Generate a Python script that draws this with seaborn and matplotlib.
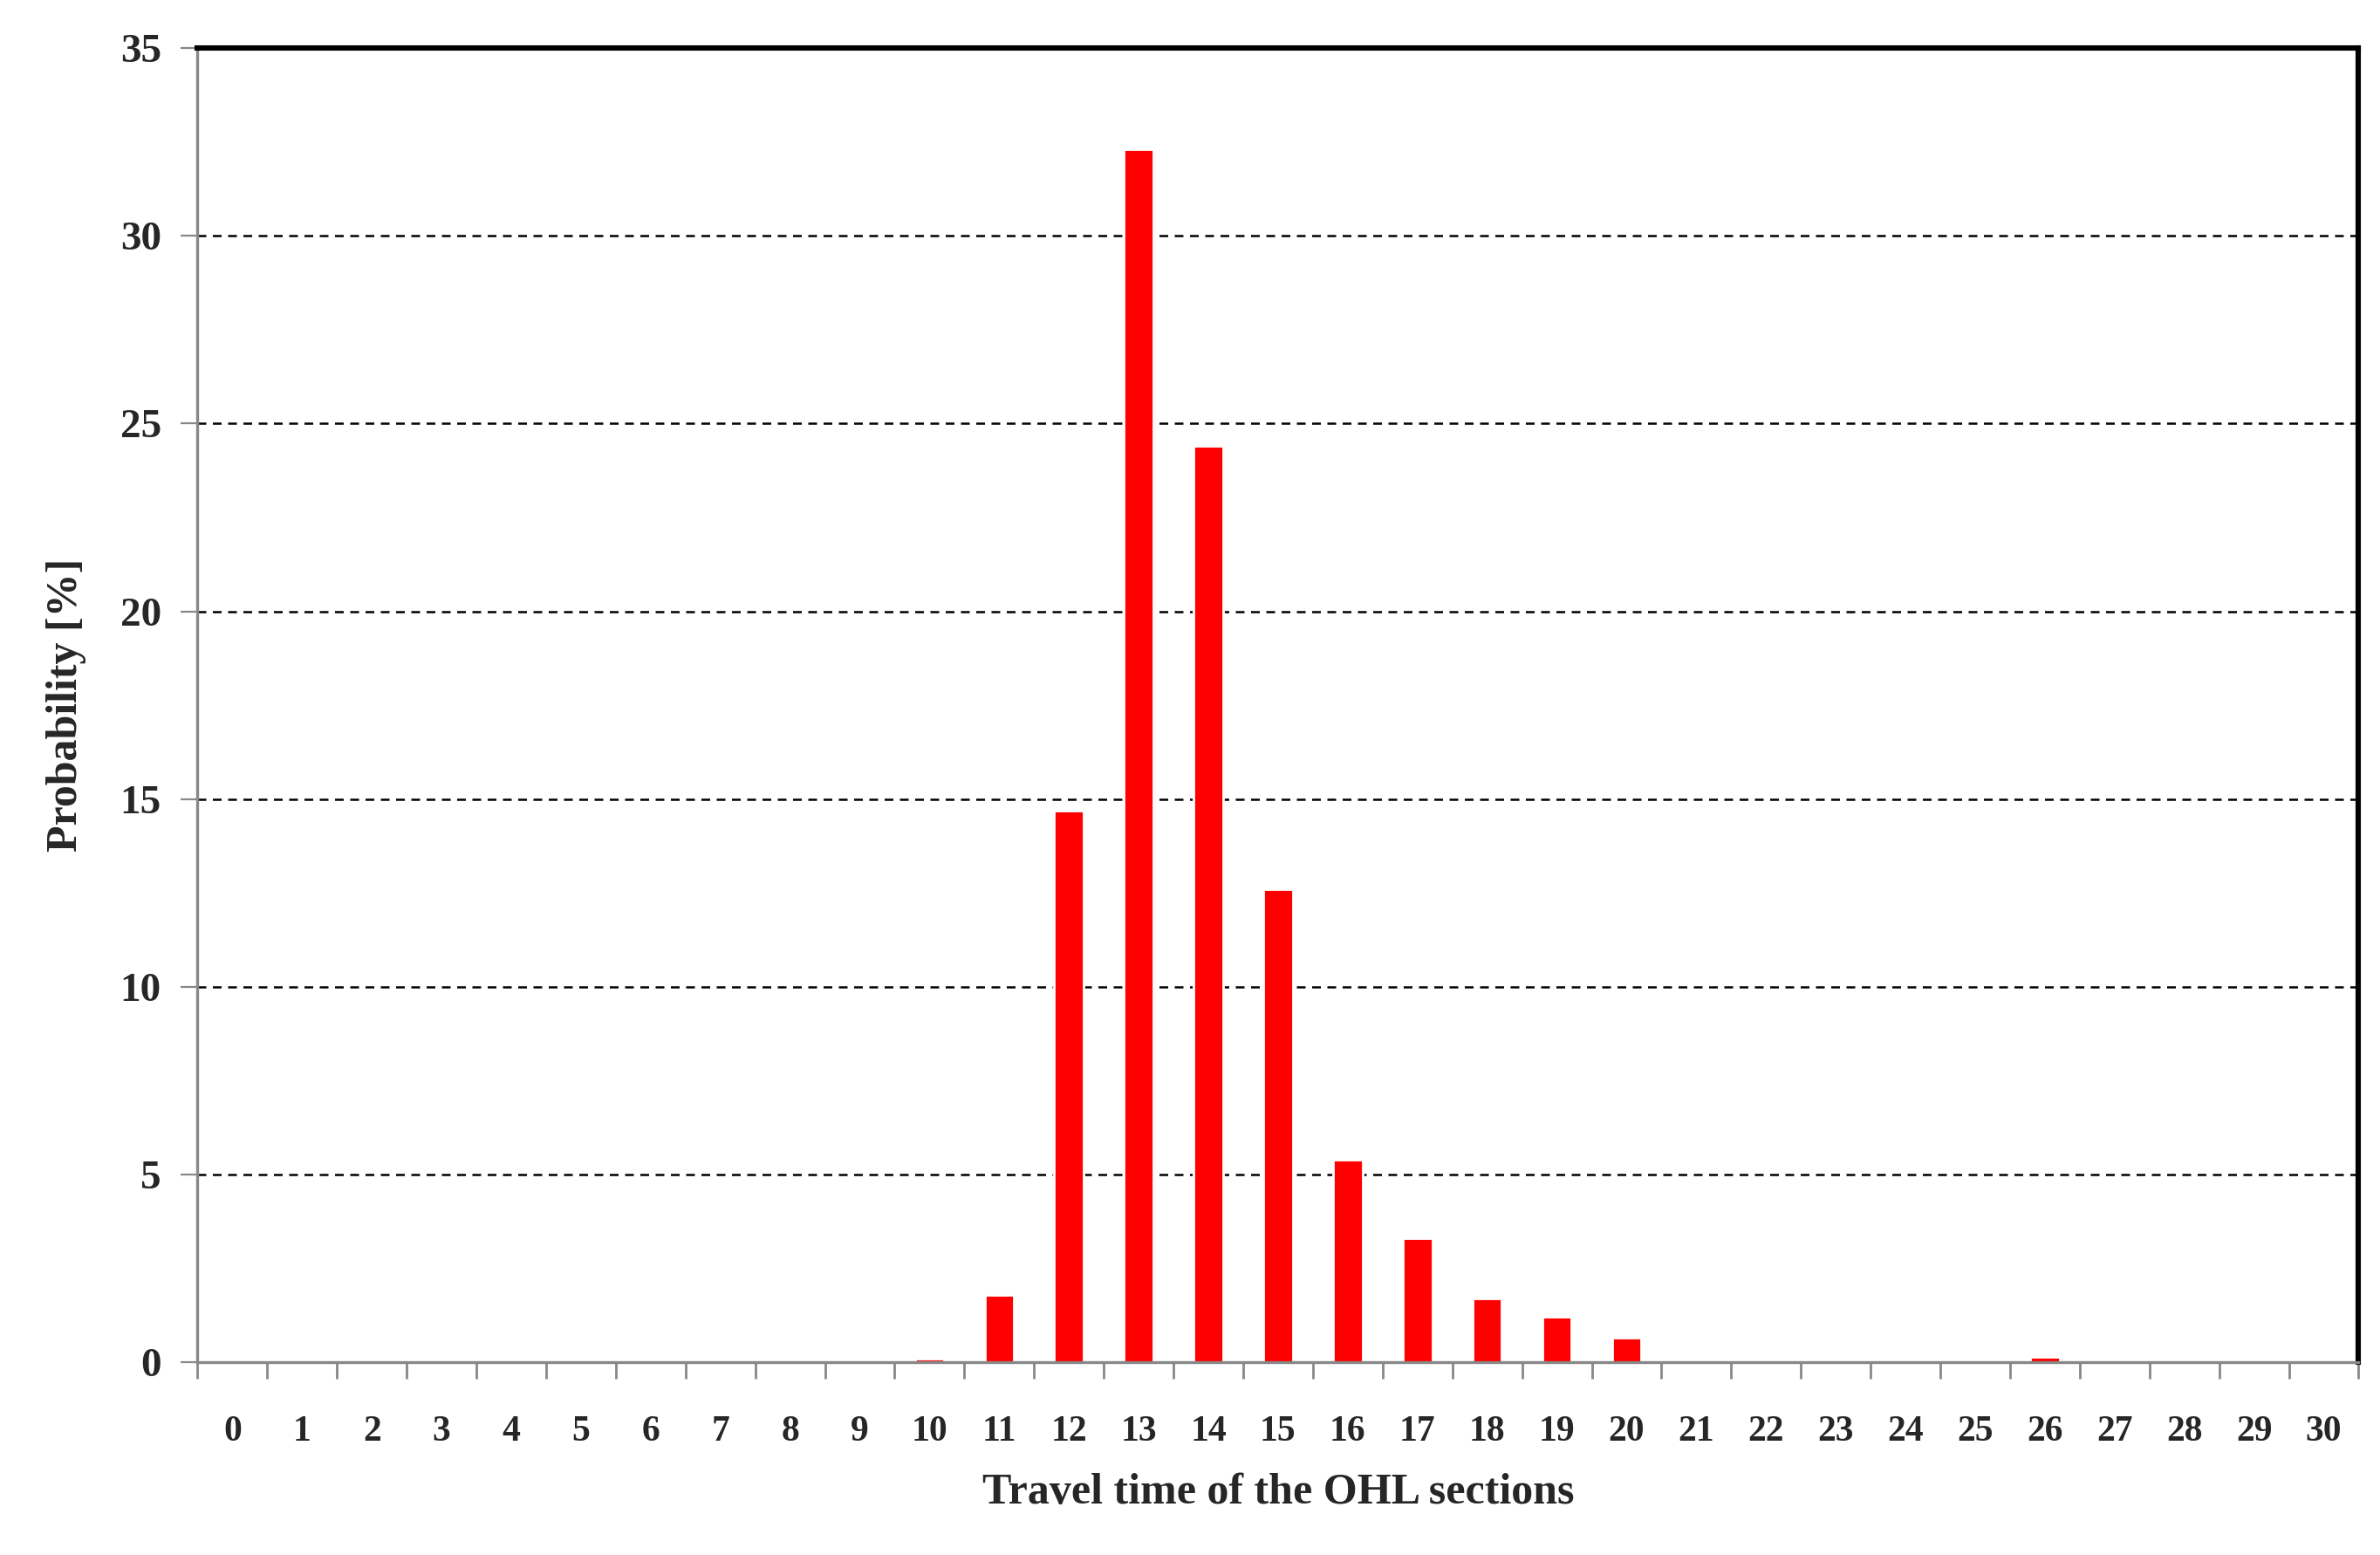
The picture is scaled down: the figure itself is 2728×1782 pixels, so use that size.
import numpy as np
import pandas as pd
import seaborn as sns
import matplotlib.pyplot as plt
from matplotlib.ticker import FixedLocator

# travel time categories and probability [%]
travel_time = list(range(31))
probability = [0, 0, 0, 0, 0, 0, 0, 0, 0, 0,
               0.1, 1.8, 14.7, 32.3, 24.4, 12.6, 5.4, 3.3, 1.7, 1.2,
               0.65, 0, 0, 0, 0, 0, 0.15, 0, 0, 0, 0]
y_ticks = [0, 5, 10, 15, 20, 25, 30, 35]

sns.set_style("white")
plt.rcParams['font.family'] = ['Liberation Serif', 'DejaVu Serif']
plt.rcParams['font.weight'] = 'bold'

df = pd.DataFrame({"t": [str(t) for t in travel_time], "p": probability})

fig = plt.figure(figsize=(13.64, 8.91), dpi=200)
ax = fig.add_axes([0.083, 0.124, 0.908, 0.845])
sns.barplot(data=df, x="t", y="p", color="#ff0000", saturation=1, width=0.42, ax=ax)

ax.set_xlim(-0.5, 30.5)
ax.set_ylim(0, 35)
ax.set_yticks(y_ticks)
for y in y_ticks[1:-1]:
    ax.axhline(y, color="black", linestyle=(0, (4, 3)), linewidth=0.9, zorder=0)

ax.xaxis.set_minor_locator(FixedLocator(np.arange(-0.5, 31, 1)))
ax.tick_params(axis="x", which="major", length=0, pad=22, labelsize=15, bottom=True)
ax.tick_params(axis="x", which="minor", length=7, width=1, direction="out",
               color="#888888", bottom=True)
ax.tick_params(axis="y", length=7, direction="out", labelsize=17, color="#888888",
               left=True, pad=8)

for side in ["top", "right"]:
    ax.spines[side].set_linewidth(2.2)
    ax.spines[side].set_color("black")
for side in ["left", "bottom"]:
    ax.spines[side].set_linewidth(1.2)
    ax.spines[side].set_color("#888888")

ax.set_xlabel("Travel time of the OHL sections", fontsize=18, fontweight="bold", labelpad=10)
ax.set_ylabel("Probability [%]", fontsize=18, fontweight="bold", labelpad=14)

fig.savefig("out.png", dpi=200)
